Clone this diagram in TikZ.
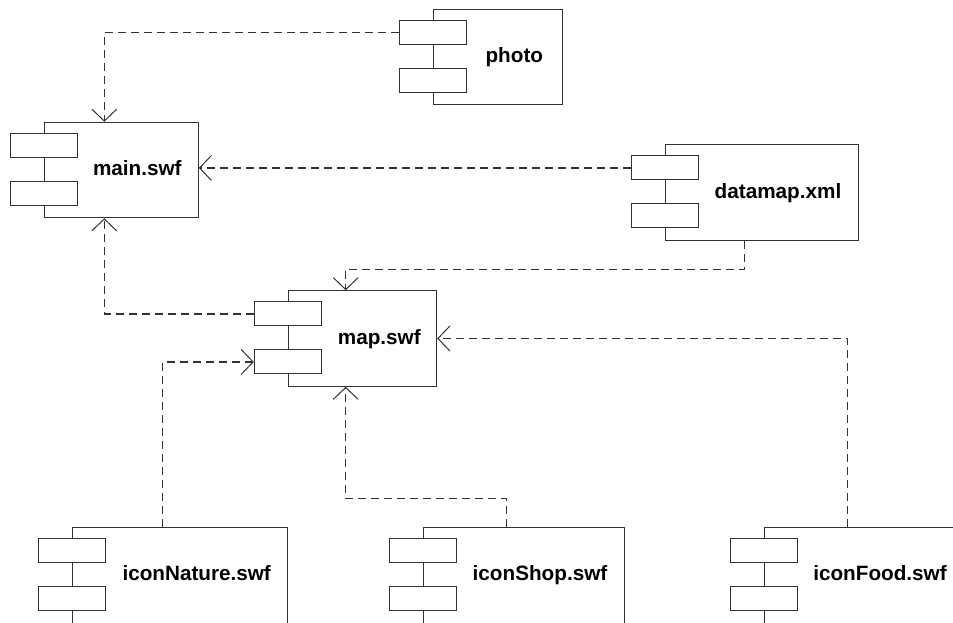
\documentclass[tikz,border=0pt]{standalone}
\usepackage{fontspec}
\setmainfont{Liberation Sans}
\usepackage{xcolor}
\usetikzlibrary{arrows.meta,calc}
\definecolor{umlgray}{RGB}{50,50,50}
\tikzset{
	comp/.style={draw=umlgray, line width=1pt, fill=white, inner sep=0pt, minimum height=95.5pt},
	port/.style={draw=umlgray, line width=1pt, fill=white, inner sep=0pt, minimum width=67pt, minimum height=24pt},
	compname/.style={font=\bfseries\fontsize{20.7}{24}\selectfont, inner sep=0pt, anchor=base},
	dep/.style={draw=umlgray, line width=1.1pt, dash pattern=on 8pt off 5pt,
			-{Straight Barb[length=12pt, width=25pt, line width=1pt]}}
}

\begin{document}
\begin{tikzpicture}[x=1pt, y=-1pt]
	\useasboundingbox (0,0) rectangle (953,622);
	\clip (0,0) rectangle (953,622);

	% Draw the components
	\node[comp, minimum width=129pt] (photo) at (497.8,57.2) {};
	\node[comp, minimum width=154pt] (main) at (121.3,170) {};
	\node[comp, minimum width=193pt] (datamap) at (761.8,192.5) {};
	\node[comp, minimum width=148.4pt] (map) at (362.5,338.5) {};
	\node[comp, minimum width=215.3pt, minimum height=104pt] (nature) at (179.7,579.3) {};
	\node[comp, minimum width=201pt, minimum height=104pt] (shop) at (523.8,579.3) {};
	\node[comp, minimum width=200pt, minimum height=104pt] (food) at (864,579.3) {};

	% Draw the two small boxes on each component
	\foreach \c in {photo,main,datamap,map,nature,shop,food} {
		\node[port] (\c P1) at ($(\c.north west)+(0,23.7)$) {};
		\node[port] (\c P2) at ($(\c.north west)+(0,71.7)$) {};
	}

	% Draw the names
	\node[compname] at ([xshift=16.5pt,yshift=-54pt]photo.north) {photo};
	\node[compname] at ([xshift=16pt,yshift=-54pt]main.north) {main.swf};
	\node[compname] at ([xshift=16.2pt,yshift=-54pt]datamap.north) {datamap.xml};
	\node[compname] at ([xshift=16.8pt,yshift=-54pt]map.north) {map.swf};
	\node[compname] at ([xshift=17pt,yshift=-54pt]nature.north) {iconNature.swf};
	\node[compname] at ([xshift=16.2pt,yshift=-54pt]shop.north) {iconShop.swf};
	\node[compname] at ([xshift=16pt,yshift=-54pt]food.north) {iconFood.swf};

	% Draw the dependencies
	\draw[dep] (photoP1.west) -| ([xshift=-17pt]main.north);
	\draw[dep] (datamapP1.west) -- (datamapP1.west -| main.east);
	\draw[dep] ([xshift=-17pt]datamap.south) -- ++(0,28.4) -| ([xshift=-16.8pt]map.north);
	\draw[dep] (mapP1.west) -| ([xshift=-17pt]main.south);
	\draw[dep] ([xshift=-17pt]nature.north) |- (mapP2.west);
	\draw[dep] ([xshift=-17pt]shop.north) -- ++(0,-28.3) -| ([xshift=-16.8pt]map.south);
	\draw[dep] ([xshift=-16.7pt]food.north) |- (map.east);
\end{tikzpicture}
\end{document}
